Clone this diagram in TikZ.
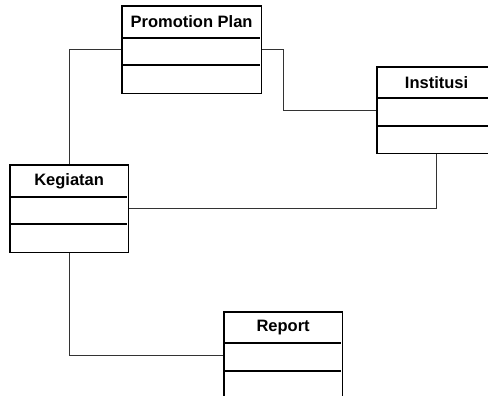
\documentclass[tikz,border=0pt]{standalone}
\usepackage{fontspec}
\setmainfont{Liberation Sans}
\usetikzlibrary{calc}
\begin{document}
\begin{tikzpicture}[x=1pt,y=-1pt,
  classbox/.style={draw=black, line width=1.2pt, fill=white, minimum width=#1, inner sep=0pt, minimum height=86, anchor=north west},
  classname/.style={font=\bfseries\fontsize{16.5}{18}\selectfont, anchor=center},
  link/.style={draw=black!80, line width=0.9pt},
  divider/.style={line width=1.2pt}]
\useasboundingbox (0,0) rectangle (488,396);
\clip (0,0) rectangle (488,396);

% class boxes
\node[classbox=138] (pp) at (122,6) {};
\node[classbox=118, minimum height=85] (inst) at (377,67) {};
\node[classbox=117] (keg) at (10,165) {};
\node[classbox=117] (rep) at (224,312) {};

% associations
\draw[link] (pp.west) -| (keg.north);
\draw[link] (pp.east) -- ++(22,0) |- (inst.west);
\draw[link] (inst.south) |- (keg.east);
\draw[link] (keg.south) |- (rep.west);

% redraw boxes on top of the associations
\foreach \n in {pp,inst,keg,rep}{
  \fill[white] (\n.north west) rectangle (\n.south east);
  \draw[line width=1.2pt] (\n.north west) rectangle (\n.south east);
}

% compartment dividers
\draw[divider] (pp.north west) ++(0,32) -- ++(138,0) ++(-138,27) -- ++(138,0);
\draw[divider] (inst.north west) ++(0,31) -- ++(118,0) ++(-118,28) -- ++(118,0);
\draw[divider] (keg.north west) ++(0,32) -- ++(117,0) ++(-117,27) -- ++(117,0);
\draw[divider] (rep.north west) ++(0,31) -- ++(117,0) ++(-117,28) -- ++(117,0);

% class names
\node[classname] (ppname) at ($(pp.north)+(0,16)$) {Promotion Plan};
\node[classname] (instname) at ($(inst.north)+(0,15.5)$) {Institusi};
\node[classname] (kegname) at ($(keg.north)+(0,16)$) {Kegiatan};
\node[classname] (repname) at ($(rep.north)+(0,15.5)$) {Report};
\end{tikzpicture}
\end{document}
